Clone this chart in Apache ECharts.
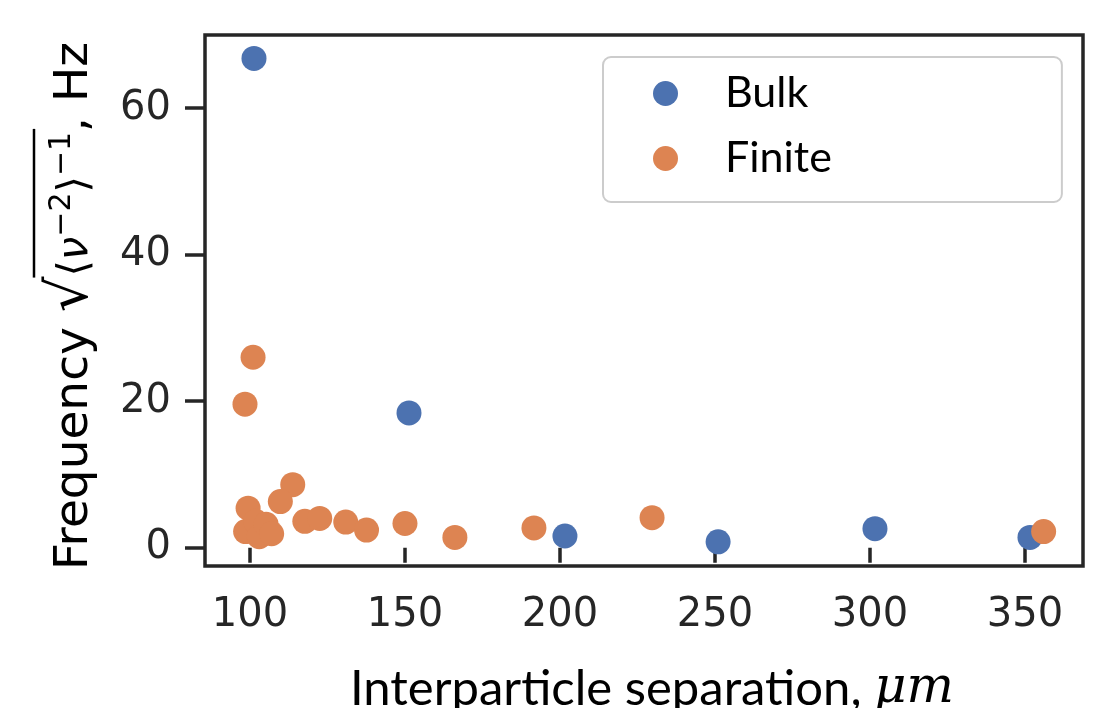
<!DOCTYPE html>
<html>
<head>
<meta charset="utf-8">
<script src="https://cdn.jsdelivr.net/npm/echarts@6/dist/echarts.min.js"></script>
<style>
html,body{margin:0;padding:0;background:#fff;}
#chart{width:1117px;height:708px;}
</style>
</head>
<body>
<div id="chart"></div>
<script>
// ---- data ----
const seriesNames = ['Bulk', 'Finite'];
const bulkX = [101.3, 151.3, 201.6, 251.0, 301.6, 351.6];
const bulkY = [66.8, 18.4, 1.6, 0.8, 2.6, 1.4];
const finiteX = [101.0, 98.4, 113.8, 109.8, 99.4, 98.6, 101.8, 103.0, 105.2, 107.0, 117.7, 122.5, 130.9, 137.6, 150.0, 166.1, 191.6, 229.7, 356.0];
const finiteY = [26.0, 19.6, 8.6, 6.3, 5.4, 2.2, 3.6, 1.5, 3.2, 1.9, 3.6, 4.0, 3.5, 2.4, 3.3, 1.4, 2.7, 4.1, 2.2];
const xTicks = [100, 150, 200, 250, 300, 350];
const yTicks = [0, 20, 40, 60];

const zip = (xs, ys) => xs.map((x, i) => [x, ys[i]]);
const AX = '#262626';
const FAM = 'DejaVu Sans';

// ---- y-axis title as rich text; overline drawn as a line ----
const yRich = {
  a: {fontSize: 47, fontFamily: FAM, color: '#000', verticalAlign: 'bottom', padding: [0, 0, 2, 0]},
  r: {fontSize: 56, fontFamily: FAM, color: '#000', verticalAlign: 'bottom'},
  b: {fontSize: 42, fontFamily: FAM, color: '#000', verticalAlign: 'bottom', padding: [0, 0, 3, 0]},
  n: {fontSize: 42, fontFamily: FAM, fontStyle: 'italic', color: '#000', verticalAlign: 'bottom', padding: [0, 0, 3, 0]},
  s: {fontSize: 30, fontFamily: FAM, color: '#000', verticalAlign: 'bottom', padding: [0, 0, 23, 0]}
};
const yParts = [
  ['a', 'Frequency '], ['r', '\u221A'], ['b', '\u27E8'], ['n', '\u03BD'], ['s', '\u22122'],
  ['b', '\u27E9'], ['s', '\u22121'], ['a', ', Hz']
];
const yName = yParts.map(p => '{' + p[0] + '|' + p[1] + '}').join('');

function overline(nameGap, endPad, gridTop, gridBottomPx) {
  const c = document.createElement('canvas').getContext('2d');
  let total = 0, olA = 0, olB = 0;
  yParts.forEach((p, i) => {
    const st = yRich[p[0]];
    c.font = (st.fontStyle || 'normal') + ' ' + st.fontSize + 'px "' + st.fontFamily + '"';
    if (i === 2) olA = total;
    total += c.measureText(p[1]).width;
    if (i === 6) olB = total;
  });
  const cy = (gridTop + gridBottomPx) / 2;
  const startY = cy + (total + endPad) / 2;
  const x = 205 - nameGap - 13 - 53;
  return {type: 'line', shape: {x1: x, y1: startY - olA + 1, x2: x, y2: startY - olB - 3},
    style: {stroke: '#000', lineWidth: 2.5}};
}

const NAME_GAP = 105, END_PAD = 11;
const chart = echarts.init(document.getElementById('chart'), null, {renderer: 'canvas'});
chart.setOption({
  animation: false,
  backgroundColor: '#fff',
  grid: {left: 205, right: 34, top: 35, bottom: 142, outerBoundsMode: 'none', show: true, borderColor: AX, borderWidth: 3.5, backgroundColor: 'transparent'},
  xAxis: {
    type: 'value', min: 85.5, max: 368.7,
    axisLine: {show: false}, splitLine: {show: false},
    axisTick: {show: true, customValues: xTicks, length: 15, lineStyle: {color: AX, width: 3.5}},
    axisLabel: {customValues: xTicks, fontSize: 40, fontFamily: FAM, color: AX, margin: 30},
    name: 'Interparticle separation, {i|\u03BCm}',
    nameLocation: 'middle', nameGap: 98,
    nameTextStyle: {fontSize: 49, fontFamily: 'Lato', color: '#000', padding: [0, 0, 0, 16],
      rich: {i: {fontSize: 50, fontFamily: 'DejaVu Serif', fontStyle: 'italic', color: '#000'}}}
  },
  yAxis: {
    type: 'value', min: -2.5, max: 70,
    axisLine: {show: false}, splitLine: {show: false},
    axisTick: {show: true, customValues: yTicks, length: 20, lineStyle: {color: AX, width: 3.5}},
    axisLabel: {customValues: yTicks, fontSize: 40, fontFamily: FAM, color: AX, margin: 34},
    name: yName, nameLocation: 'middle', nameRotate: 90, nameGap: NAME_GAP,
    nameTextStyle: {color: '#000', fontFamily: FAM, fontSize: 47, padding: [0, END_PAD, 0, 0], rich: yRich}
  },
  legend: {
    data: seriesNames, orient: 'vertical', left: 603, top: 57,
    icon: 'circle', itemWidth: 25, itemHeight: 25, itemGap: 22,
    padding: [15, 230, 22, 50],
    borderColor: '#cccccc', borderWidth: 2, borderRadius: 8,
    textStyle: {fontSize: 43, fontFamily: 'Lato', color: '#000', lineHeight: 42, padding: [0, 0, 0, 42]}
  },
  graphic: [overline(NAME_GAP, END_PAD, 35, 566)],
  series: [
    {name: seriesNames[0], type: 'scatter', data: zip(bulkX, bulkY), symbolSize: 25, itemStyle: {color: '#4c72b0', opacity: 1}},
    {name: seriesNames[1], type: 'scatter', data: zip(finiteX, finiteY), symbolSize: 25, itemStyle: {color: '#dd8452', opacity: 1}}
  ]
});
</script>
</body>
</html>
